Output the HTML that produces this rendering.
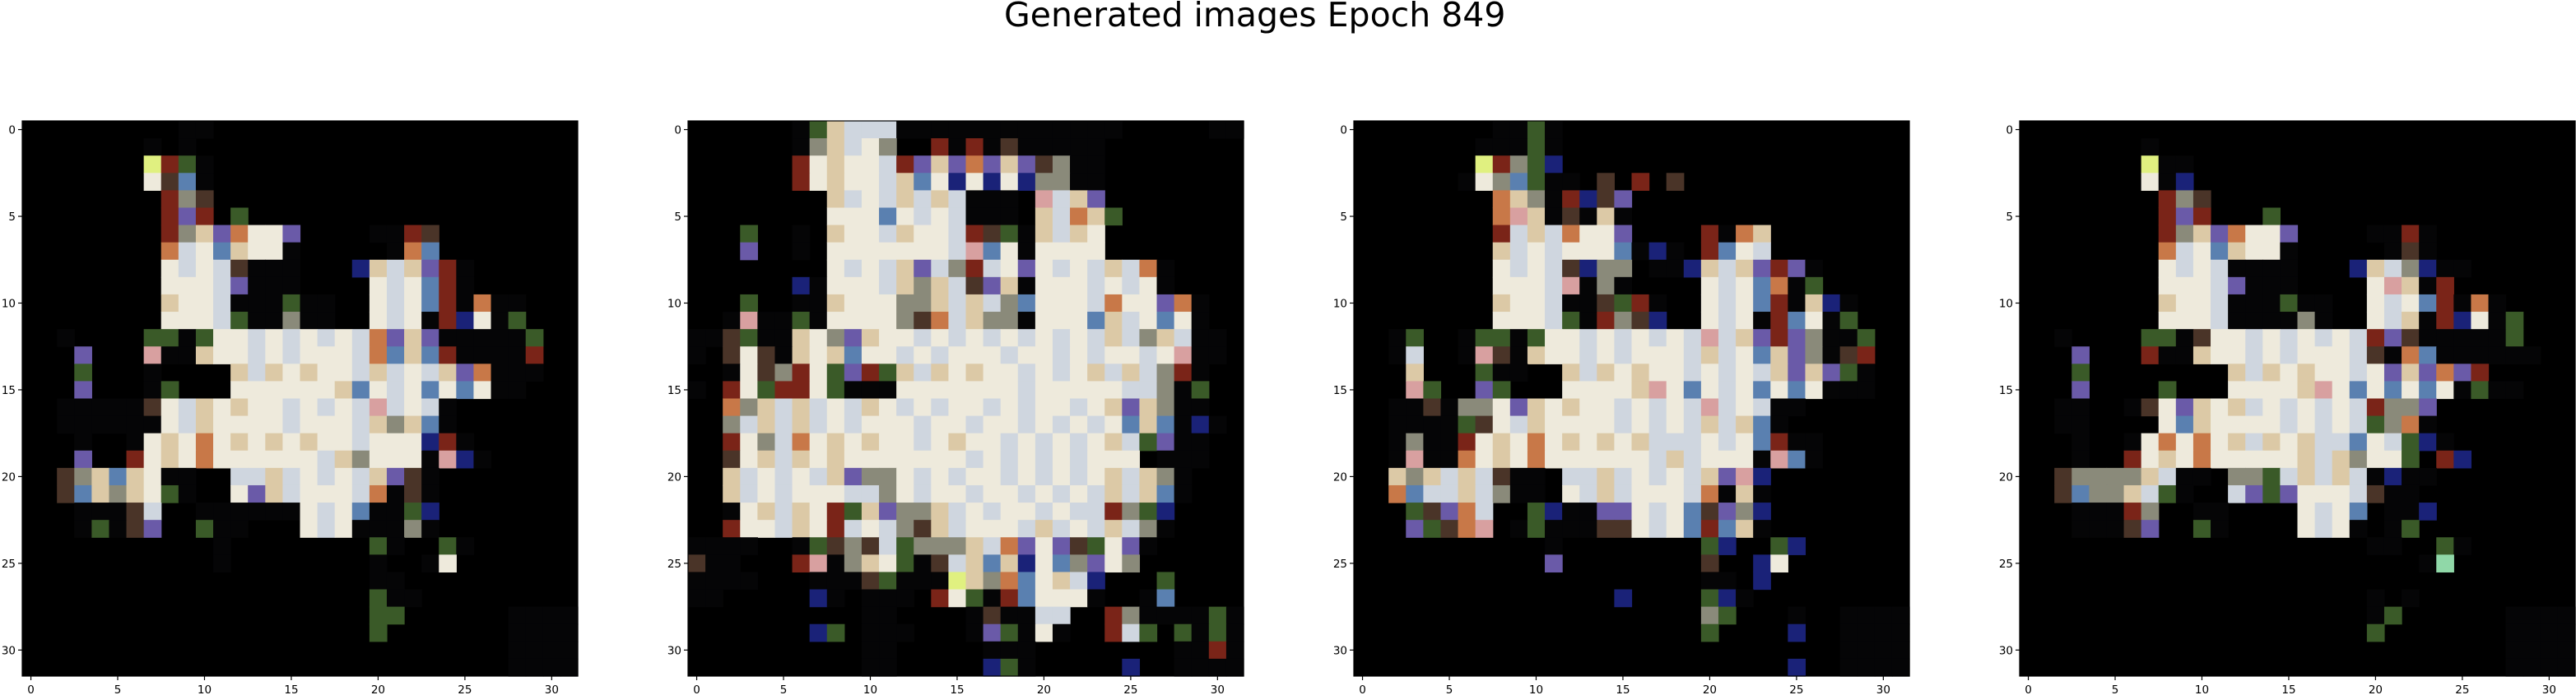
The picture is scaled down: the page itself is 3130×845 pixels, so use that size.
<!DOCTYPE html>
<html><head><meta charset="utf-8"><style>
html,body{margin:0;padding:0;background:#fff;}
svg{display:block;}
text{font-family:"DejaVu Sans","Liberation Sans",sans-serif;fill:#000;}
</style></head><body>
<svg id="fig" width="3130" height="845" viewBox="0 0 3130 845" xmlns="http://www.w3.org/2000/svg">
<text x="1220" y="32" font-size="41" text-anchor="start">Generated images Epoch 849</text>
</svg>
<script>
const panelTitles = ["image-1","image-2","image-3","image-4"];
const tickValues = [0,5,10,15,20,25,30];
const gridSize = 32;
const palette = {'.':'#000000','d':'#050506','w':'#eeeadc','b':'#cfd6df','t':'#dcc9a6','g':'#8a8a7a','n':'#4a3428','r':'#7a2418','o':'#c87848','p':'#6a5aa8','l':'#5a80b0','B':'#1a2278','G':'#3a5a28','y':'#e0f080','k':'#d8a0a0','m':'#90d8a8'};
const image1 = ["9:dd","7:d.d","7:yrGd","7:wnld","8:rgn","8:rpr.G","8:rgtpowwp 20:ddrn","8:obwltwwd 21:dol","8:wbwbnddd 19:Btbtprd","8:wwwbpddd 20:wbwlrd","8:twwbdddGdd 20:wbwlrdodd","8:wwwbGddgdd 20:wbwdrBwdG","2:d 7:GGdGwwbwbwbwboptpdddddG","3:p 7:kddtwwbwbwwwboltlrddddr","3:G 7:d 12:tbtwtwwbtbwbtpoddd","3:p 7:dG 12:wwwwwwtlwbwlwlwdd","2:dddddnwbtwtwwbwbwbkbwbd","2:ddddddwbtwwwwbwwwbtgtld","3:d 6:dwtwowtwtwtwwbwwwBrd","3:p 6:rwtwowwwwwwbtgwwwdkBd","2:ngtltwdd 12:bbtbwbwbtpnd","2:nltgtwGd 12:wptbwwwbodnd","3:dddnb 10:ddddddwbwlddGB","3:dGdnp 10:Gdd 16:wbwdddgd","11:d 20:Gd 24:Gd","11:d 20:d 23:dw","20:dd","20:Gdd","20:GG 28:dddd","20:G 28:dddd","28:dddd","28:dddd"];
const image2 = ["6:dGtbbb 12:ddddddddddddd 30:dd","6:dgtbwg 14:rdrdnddddd","6:rwtwwbrptpoptpngdd","6:rwtwwbtlwBwBwBggdd","8:tbwbtbtbddd.kbtp","8:wwwlwbwbddd.tbotG","3:G 6:d.twwbtwwbrnGdtbtw","3:p 6:d.wwwwwwwbklwdwwww","8:wbwbtpbgrbwpwbwbtbod","6:Bdwwwbtgtbnptdwwwbwbwd","3:G 6:ddtwwwggtbtbglwwwbowwpod","2:dkddGdwwwwgnobtggdwwwltbwlwd","0:ddnGddtwgpt 11:wwbwbwbwbwbwb 24:tbgtbdd","0:d 2:nwndtwtlw 11:wbwbwwwbwwbwbwwbw 28:kdd","2:dwngrwGprG 12:tbtwtwwbwbwtbtb 27:grd","0:d 2:rwGrrwGddd 12:wwwwwwwbwwwwwbb 27:gdG","2:ogtbtbwbt 11:wbwbwwbwbwwbw 24:tptgdd","2:gbtbtb 8:wbwwwbwwbwwbwbwbw 25:ltldBd","2:rwgbowtwt 11:wwbwtwwbwbwbw 24:tbGpdd","2:nwtbtw 8:twwwwwwwbwbwbwbwww 27:ddd","2:tbwbwbtpgg 12:wbwbwwbwbwbw 24:tbtgd","2:tbwbwwwbbg 12:wbwwbwwbwbwb 24:tbtld","2:dwtbtwrGtpggtb 16:wbwwbwbb 24:rgGB","2:rwwbtwrbwbgntb 16:wwwbtbwb 24:tbgd","0:dddd 6:dGngnbGgggtbopwpnGwpd","0:ndd 6:rkdgtwGdnbtltBwlgpwg","0:dddd 7:dddnGdddytgolwtbB 27:G","0:dd 7:Bd.ddd.rwGdrlwwwd 26:dl","10:dd 16:dnddbb 24:rgddddGd","7:BG.ddd 16:dpGdwd 24:rbG.GdGd","10:dd 17:ddd 28:ddrd","10:dd 17:BGd 25:B 28:dddd"];
const image3 = ["8:ddGd","7:dddGd","7:yrgGB","6:dwglGdd.n.r.n","8:otgdrBnp","8:oktdndtd","8:rbtbowwp 20:rdot","8:tbwbwwwldBd 20:rlwb","8:wbwbnBgg.dd 19:Btbtprpd","8:wwwbkdgd 20:wbwlodG","8:twwbddnGrd 20:wbwlrdtBd","8:wwwbGdrgnB 20:wbwdrlwdG","2:dG 6:dGGdGwwbwbwbwbkbtprpgddG","2:db 6:dkndtwwbwbwwwbtbwltpgdnr","3:t 7:Gdd 12:tbtwtwwbwbwbtptpGd","3:kG 7:pG 12:wwwwtkwlwbwlwlwddd","2:ddndggwptwtwwbwbwbkbwbdd","2:ddddGnwbtwwwwbwbwbtbtld","2:dgddrwtwowtwtwtbbbwbwlrdd","2:dkddowtwowwwwwwbtbwwwdkld","2:tgtbtbndd 12:bbtbwbwbtpkB","2:olbbtbgdd 12:wbtbwwwbodtd","3:Gnpob 10:GBddppwbwlnpgB","3:pGnok 9:dGdddnnwbwlrltd","11:d 20:GB 24:GB","11:p 20:n 23:Bw","20:dd 23:B","15:B 20:GBd","20:gG 25:d 28:dddd","20:G 25:B 28:dddd","28:dddd","25:B 28:dddd"];
const image4 = ["","7:d","7:ydd","7:wdB","8:rgn","8:rpr 14:G","8:rgtpowwp 20:ddrd","8:obwltwwd 21:dnd","8:wbwbdddd 19:BtbgBdd","8:wwwbpddd 20:wktdr","8:twwbdddGdd 20:wbwlrdod","8:wwwbddddgd 20:wbtdrBwdG","2:d 7:GGdnwwbwbwbwbrpndddddG","3:p 7:rddtwwbwbwwwbndoldddddd","3:G 12:tbtwtwwbwptpopr dd","3:p 8:G 12:wwwwtkwlwlwlwdGdd","2:dd 6:dnwptwtbwbwbwbrggp","2:dd 8:wltwwwwbwbwbGgod","3:d 6:dwowowtbtwtbblwbGBd","3:d 6:rwtwowwwwwtbtgwwG.rB","2:nggggtbdd 12:ggGbtbtbdBdd","2:nlggtbGd 12:bpGpwwwbndd","3:dddrg 10:dd 16:wbwl.ddB","3:dddnp 10:Gd 16:wbwd.dG","20:dd 24:Gd","23:dm","","20:d.d","20:dG 28:dddd","20:G 28:dddd","28:dddd","28:dddd"];
const images = [image1, image2, image3, image4];
const panelLefts = [27, 836, 1645, 2454];
const panelTop = 147, panelSize = 675;
const NS = "http://www.w3.org/2000/svg";
const svg = document.getElementById('fig');
function parseRow(s){
  const row = new Array(gridSize).fill('.');
  s.split(' ').filter(x=>x.length).forEach(seg=>{
    const i = seg.indexOf(':');
    const start = parseInt(seg.slice(0,i));
    const chars = seg.slice(i+1);
    for(let k=0;k<chars.length && start+k<gridSize;k++) row[start+k]=chars[k];
  });
  return row;
}
function el(tag, attrs){
  const e = document.createElementNS(NS, tag);
  for (const k in attrs) e.setAttribute(k, attrs[k]);
  return e;
}
images.forEach((img, pi)=>{
  const left = panelLefts[pi];
  const cell = panelSize / gridSize;
  const xPos = c => left + c*cell;
  const yPos = r => panelTop + r*cell;
  const g = el('g', {});
  
  
  const bg = el('rect', {x:left, y:panelTop, width:panelSize, height:panelSize, fill:'#000'});
  
  
  g.appendChild(bg);
  img.forEach((rowStr, r)=>{
    const row = parseRow(rowStr);
    row.forEach((ch, c)=>{
      if (ch === '.' || !palette[ch]) return;
      const rc = el('rect', {x:xPos(c).toFixed(2), y:yPos(r).toFixed(2), width:(cell+0.6).toFixed(2), height:(cell+0.6).toFixed(2), fill:palette[ch]});
      
      
      g.appendChild(rc);
    });
  });
  const frame = el('rect', {x:left, y:panelTop, width:panelSize, height:panelSize, fill:'none', stroke:'#000', 'stroke-width':1.2});
  
  
  g.appendChild(frame);
  tickValues.forEach(v=>{
    const cx = xPos(v + 0.5), cy = yPos(v + 0.5);
    const tx = el('line', {x1:cx, x2:cx, y1:panelTop+panelSize, y2:panelTop+panelSize+5, stroke:'#000', 'stroke-width':1.2});
    
    
    g.appendChild(tx);
    const lx = el('text', {x:cx, y:panelTop+panelSize+21, 'font-size':13.5, 'text-anchor':'middle'});
    lx.textContent = v;
    
    
    g.appendChild(lx);
    const ty = el('line', {x1:left-5, x2:left, y1:cy, y2:cy, stroke:'#000', 'stroke-width':1.2});
    
    
    g.appendChild(ty);
    const ly = el('text', {x:left-8, y:cy+5, 'font-size':13.5, 'text-anchor':'end'});
    ly.textContent = v;
    
    
    g.appendChild(ly);
  });
  svg.appendChild(g);
});
</script>
</body></html>
